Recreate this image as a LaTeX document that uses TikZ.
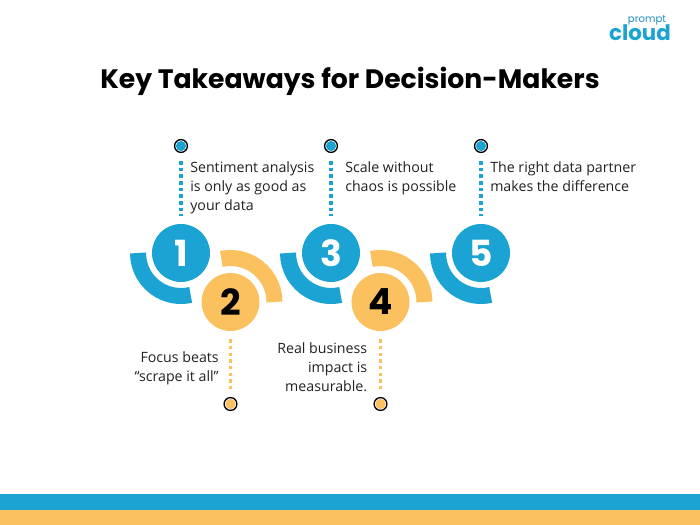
\documentclass[tikz,border=0pt]{standalone}
\usepackage{fontspec}
\setmainfont{Open Sans}
\newfontfamily\titlefont{Poppins}
\newfontfamily\numfont{Poppins}
\definecolor{brandblue}{HTML}{1BA3D3}
\definecolor{brandyellow}{HTML}{FBC15E}
\definecolor{ink}{HTML}{222222}
\definecolor{logoblue}{HTML}{1B8FBF}
\tikzset{
  x=0.75pt,y=0.75pt,
  numdisc/.style={circle,fill=#1,minimum size=43.5pt,inner sep=0pt,font=\numfont\bfseries\fontsize{27}{27}\selectfont},
  enddot/.style={circle,draw=black,line width=1pt,fill=white,minimum size=9.6pt,inner sep=0pt,
    path picture={\fill[#1] (path picture bounding box.center) circle (3.8pt);}},
  ring/.style={draw=#1,line width=12pt,line cap=butt},
  dots/.style={draw=#1,line width=2.8pt,dash pattern=on 2.6pt off 2.4pt,shorten >=6pt,shorten <=6pt},
  caption/.style={font=\fontsize{10.65}{14.25}\selectfont,text=ink,inner sep=0pt},
}
\begin{document}
\begin{tikzpicture}
\useasboundingbox (0,0) rectangle (700,525);
\fill[white] (0,0) rectangle (700,525);
\fill[brandblue] (0,15) rectangle (700,31);
\fill[brandyellow] (0,0) rectangle (700,15);

\node[font=\titlefont\bfseries\fontsize{20}{24}\selectfont,text=black,inner sep=0pt] (title) at (350,443.5) {Key Takeaways for Decision-Makers};

\node[font=\titlefont\fontsize{7.6}{7.6}\selectfont,text=logoblue,inner sep=0pt] (logoa) at (647,505) {prompt};
\node[font=\titlefont\bfseries\fontsize{16}{16}\selectfont,text=brandblue,inner sep=0pt] (logob) at (640,492) {cloud};

\node[numdisc=brandblue,text=white] (c1) at (181,272) {1};
\node[numdisc=brandyellow,text=black] (c2) at (230.5,223) {2};
\node[numdisc=brandblue,text=white] (c3) at (331,272) {3};
\node[numdisc=brandyellow,text=black] (c4) at (380.5,223) {4};
\node[numdisc=brandblue,text=white] (c5) at (481,272) {5};

\foreach \c in {c1,c3,c5}
  \draw[ring=brandblue] ([shift={(180:43)}]\c.center) arc (180:283:43);
\foreach \c in {c2,c4}
  \draw[ring=brandyellow] ([shift={(0:44)}]\c.center) arc (0:102:44);

\node[enddot=brandblue] (d1) at (181,379) {};
\node[enddot=brandblue] (d3) at (331,379) {};
\node[enddot=brandblue] (d5) at (481,379) {};
\node[enddot=brandyellow] (d2) at (230.5,121) {};
\node[enddot=brandyellow] (d4) at (380.5,121) {};

\draw[dots=brandblue] (d1) -- (c1);
\draw[dots=brandblue] (d3) -- (c3);
\draw[dots=brandblue] (d5) -- (c5);
\draw[dots=brandyellow] (c2) -- (d2);
\draw[dots=brandyellow] (c4) -- (d4);

\node[caption,align=left,anchor=north west] (t1) at (190,364) {Sentiment analysis\\is only as good as\\your data};
\node[caption,align=left,anchor=north west] (t3) at (345,364) {Scale without\\chaos is possible};
\node[caption,align=left,anchor=north west] (t5) at (490,364) {The right data partner\\makes the difference};
\node[caption,align=right,anchor=north east] (t2) at (219,174) {Focus beats\\“scrape it all”};
\node[caption,align=right,anchor=north east] (t4) at (367.5,183) {Real business\\impact is\\measurable.};
\end{tikzpicture}
\end{document}
